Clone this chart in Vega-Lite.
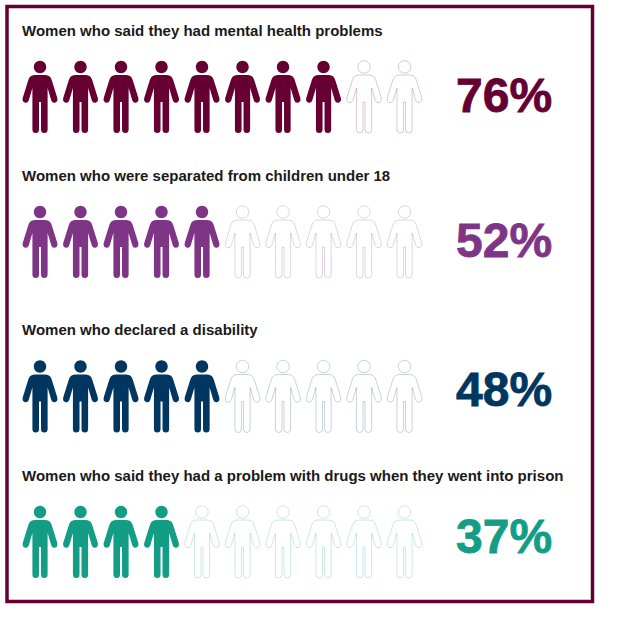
{"$schema":"https://vega.github.io/schema/vega-lite/v6.json","width":585.5,"height":595,"padding":{"left":7,"top":6.5,"right":30,"bottom":21},"autosize":"none","background":"white","config":{"view":{"stroke":"#660033","strokeWidth":3.5,"fill":"white"}},"datasets":{"people":[
{"row":1,"question":"Women who said they had mental health problems","person":1,"state":"filled"},{"row":1,"question":"Women who said they had mental health problems","person":2,"state":"filled"},{"row":1,"question":"Women who said they had mental health problems","person":3,"state":"filled"},{"row":1,"question":"Women who said they had mental health problems","person":4,"state":"filled"},{"row":1,"question":"Women who said they had mental health problems","person":5,"state":"filled"},{"row":1,"question":"Women who said they had mental health problems","person":6,"state":"filled"},{"row":1,"question":"Women who said they had mental health problems","person":7,"state":"filled"},{"row":1,"question":"Women who said they had mental health problems","person":8,"state":"filled"},{"row":1,"question":"Women who said they had mental health problems","person":9,"state":"empty"},{"row":1,"question":"Women who said they had mental health problems","person":10,"state":"empty"},
{"row":2,"question":"Women who were separated from children under 18","person":1,"state":"filled"},{"row":2,"question":"Women who were separated from children under 18","person":2,"state":"filled"},{"row":2,"question":"Women who were separated from children under 18","person":3,"state":"filled"},{"row":2,"question":"Women who were separated from children under 18","person":4,"state":"filled"},{"row":2,"question":"Women who were separated from children under 18","person":5,"state":"filled"},{"row":2,"question":"Women who were separated from children under 18","person":6,"state":"empty"},{"row":2,"question":"Women who were separated from children under 18","person":7,"state":"empty"},{"row":2,"question":"Women who were separated from children under 18","person":8,"state":"empty"},{"row":2,"question":"Women who were separated from children under 18","person":9,"state":"empty"},{"row":2,"question":"Women who were separated from children under 18","person":10,"state":"empty"},
{"row":3,"question":"Women who declared a disability","person":1,"state":"filled"},{"row":3,"question":"Women who declared a disability","person":2,"state":"filled"},{"row":3,"question":"Women who declared a disability","person":3,"state":"filled"},{"row":3,"question":"Women who declared a disability","person":4,"state":"filled"},{"row":3,"question":"Women who declared a disability","person":5,"state":"filled"},{"row":3,"question":"Women who declared a disability","person":6,"state":"empty"},{"row":3,"question":"Women who declared a disability","person":7,"state":"empty"},{"row":3,"question":"Women who declared a disability","person":8,"state":"empty"},{"row":3,"question":"Women who declared a disability","person":9,"state":"empty"},{"row":3,"question":"Women who declared a disability","person":10,"state":"empty"},
{"row":4,"question":"Women who said they had a problem with drugs when they went into prison","person":1,"state":"filled"},{"row":4,"question":"Women who said they had a problem with drugs when they went into prison","person":2,"state":"filled"},{"row":4,"question":"Women who said they had a problem with drugs when they went into prison","person":3,"state":"filled"},{"row":4,"question":"Women who said they had a problem with drugs when they went into prison","person":4,"state":"filled"},{"row":4,"question":"Women who said they had a problem with drugs when they went into prison","person":5,"state":"empty"},{"row":4,"question":"Women who said they had a problem with drugs when they went into prison","person":6,"state":"empty"},{"row":4,"question":"Women who said they had a problem with drugs when they went into prison","person":7,"state":"empty"},{"row":4,"question":"Women who said they had a problem with drugs when they went into prison","person":8,"state":"empty"},{"row":4,"question":"Women who said they had a problem with drugs when they went into prison","person":9,"state":"empty"},{"row":4,"question":"Women who said they had a problem with drugs when they went into prison","person":10,"state":"empty"}],
"summary":[{"row":1,"question":"Women who said they had mental health problems","label":"76%"},{"row":2,"question":"Women who were separated from children under 18","label":"52%"},{"row":3,"question":"Women who declared a disability","label":"48%"},{"row":4,"question":"Women who said they had a problem with drugs when they went into prison","label":"37%"}]},
"resolve":{"scale":{"y":"independent"}},
"layer":[
{"data":{"name":"people"},"transform":[{"filter":"datum.state === 'empty'"}],"mark":{"type":"point","filled":false,"fill":"white","fillOpacity":1,"strokeWidth":1,"strokeOpacity":0.22,"size":4,"shape":"M6.2,-30A6.2,6.2,0,1,1,-6.2,-30A6.2,6.2,0,1,1,6.2,-30ZM-5,-22L5,-22Q9,-22,10.5,-19.5Q11.5,-18,12,-16L17.3,1Q18,4.5,15.5,5.5Q12.5,6.5,11.3,3.5L7.6,-9L7.6,32.5Q7.6,36,4.3,36Q1,36,1,32.5L1,5L-1,5L-1,32.5Q-1,36,-4.3,36Q-7.6,36,-7.6,32.5L-7.6,-9L-11.3,3.5Q-12.5,6.5,-15.5,5.5Q-18,4.5,-17.3,1L-12,-16Q-11.5,-18,-10.5,-19.5Q-9,-22,-5,-22Z"},"encoding":{"x":{"field":"person","type":"quantitative","axis":null,"scale":{"domain":[0.185,14.64]}},"y":{"field":"row","type":"quantitative","axis":null,"scale":{"domain":[1,2,3,4],"range":[90.5,235.5,390,535.5]}},"stroke":{"field":"row","type":"ordinal","legend":null,"scale":{"domain":[1,2,3,4],"range":["#660033","#7f3586","#003660","#149d85"]}}}},
{"data":{"name":"people"},"transform":[{"filter":"datum.state === 'filled'"}],"mark":{"type":"point","filled":true,"opacity":1,"size":4,"shape":"M6.2,-30A6.2,6.2,0,1,1,-6.2,-30A6.2,6.2,0,1,1,6.2,-30ZM-5,-22L5,-22Q9,-22,10.5,-19.5Q11.5,-18,12,-16L17.3,1Q18,4.5,15.5,5.5Q12.5,6.5,11.3,3.5L7.6,-9L7.6,32.5Q7.6,36,4.3,36Q1,36,1,32.5L1,5L-1,5L-1,32.5Q-1,36,-4.3,36Q-7.6,36,-7.6,32.5L-7.6,-9L-11.3,3.5Q-12.5,6.5,-15.5,5.5Q-18,4.5,-17.3,1L-12,-16Q-11.5,-18,-10.5,-19.5Q-9,-22,-5,-22Z"},"encoding":{"x":{"field":"person","type":"quantitative","axis":null,"scale":{"domain":[0.185,14.64]}},"y":{"field":"row","type":"quantitative","axis":null,"scale":{"domain":[1,2,3,4],"range":[90.5,235.5,390,535.5]}},"fill":{"field":"row","type":"ordinal","legend":null,"scale":{"domain":[1,2,3,4],"range":["#660033","#7f3586","#003660","#149d85"]}}}},
{"data":{"name":"summary"},"mark":{"type":"text","align":"left","baseline":"middle","font":"Liberation Sans","fontWeight":"bold","fontSize":15,"color":"#1a1a1a"},"encoding":{"x":{"datum":0.556,"type":"quantitative","axis":null,"scale":{"domain":[0.185,14.64]}},"y":{"field":"row","type":"quantitative","axis":null,"scale":{"domain":[1,2,3,4],"range":[24,169.5,323.5,469]}},"text":{"field":"question"}}},
{"data":{"name":"summary"},"mark":{"type":"text","align":"left","baseline":"middle","font":"Liberation Sans","fontWeight":"bold","fontSize":48,"strokeWidth":0.8},"encoding":{"x":{"datum":11.27,"type":"quantitative","axis":null,"scale":{"domain":[0.185,14.64]}},"y":{"field":"row","type":"quantitative","axis":null,"scale":{"domain":[1,2,3,4],"range":[91,236,385.5,532]}},"text":{"field":"label"},"fill":{"field":"row","type":"ordinal","legend":null,"scale":{"domain":[1,2,3,4],"range":["#660033","#7f3586","#003660","#149d85"]}},"stroke":{"field":"row","type":"ordinal","legend":null,"scale":{"domain":[1,2,3,4],"range":["#660033","#7f3586","#003660","#149d85"]}}}}
]}
